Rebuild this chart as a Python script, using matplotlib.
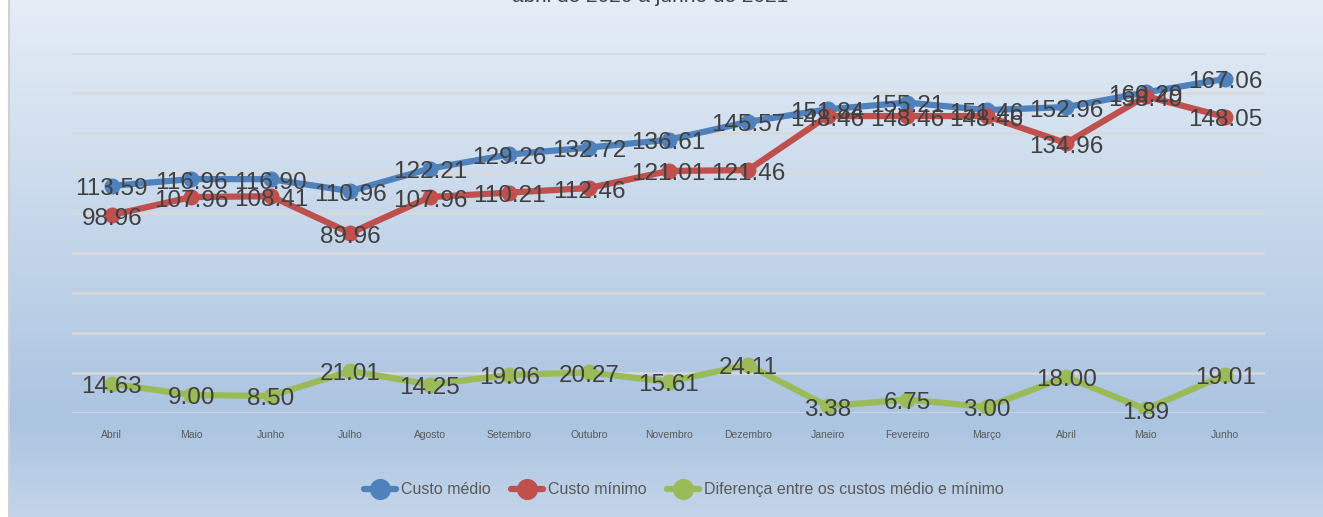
import numpy as np
import matplotlib.pyplot as plt
from matplotlib.colors import LinearSegmentedColormap

plt.rcParams['font.family'] = ['Liberation Sans', 'DejaVu Sans']

meses = ['Abril', 'Maio', 'Junho', 'Julho', 'Agosto', 'Setembro', 'Outubro',
         'Novembro', 'Dezembro', 'Janeiro', 'Fevereiro', 'Março', 'Abril',
         'Maio', 'Junho']
custo_medio = [113.59, 116.96, 116.90, 110.96, 122.21, 129.26, 132.72,
               136.61, 145.57, 151.84, 155.21, 151.46, 152.96, 160.29, 167.06]
custo_minimo = [98.96, 107.96, 108.41, 89.96, 107.96, 110.21, 112.46,
                121.01, 121.46, 148.46, 148.46, 148.46, 134.96, 158.40, 148.05]
diferenca = [14.63, 9.00, 8.50, 21.01, 14.25, 19.06, 20.27,
             15.61, 24.11, 3.38, 6.75, 3.00, 18.00, 1.89, 19.01]

W, H = 1323, 517
fig = plt.figure(figsize=(W / 100, H / 100), dpi=100)

# background gradient
bg = fig.add_axes([0, 0, 1, 1], zorder=-10)
cmap = LinearSegmentedColormap.from_list(
    'bg', [(0, '#e5edf6'), (420 / 517, '#abc4e1'), (1, '#c3d5ea')])
bg.imshow(np.linspace(0, 1, 256)[:, None], aspect='auto', cmap=cmap,
          extent=[0, W, H, 0])
bg.fill_between([0, 8], 0, H, color='white')
bg.plot([8.5, 8.5], [0, H], color='#d0d0d0', lw=1.5)
bg.set_xlim(0, W)
bg.set_ylim(H, 0)
bg.axis('off')

ax = fig.add_axes([72 / W, (H - 413) / H, 1193 / W, 360 / H])
ax.patch.set_alpha(0)
x = np.arange(len(meses))

series = [
    (custo_medio, '#4f81bd', 'Custo médio'),
    (custo_minimo, '#c0504d', 'Custo mínimo'),
    (diferenca, '#9bbb59', 'Diferença entre os custos médio e mínimo'),
]
for vals, cor, nome in series:
    ax.plot(x, vals, color=cor, lw=4.5, marker='o', ms=10.5,
            solid_capstyle='round', label=nome, zorder=3)
    for xi, v in zip(x, vals):
        ax.annotate(f'{v:.2f}', (xi, v), xytext=(0, -2.5),
                    textcoords='offset points', ha='center', va='center',
                    fontsize=17.5, color='#404040', zorder=4)

ax.set_xlim(-0.5, len(meses) - 0.5)
ax.set_ylim(0, 180)
ax.set_yticks(np.arange(0, 181, 20))
ax.yaxis.grid(True, color='#d9d9d9', lw=1.8, zorder=1)
ax.set_yticklabels([])
ax.tick_params(axis='y', length=0)
ax.set_xticks(x)
ax.set_xticklabels(meses, fontsize=7.5, color='#595959')
ax.tick_params(axis='x', length=0, pad=12)
for s in ax.spines.values():
    s.set_visible(False)

fig.text(650 / W, 1 - 2.5 / H, 'abril de 2020 a junho de 2021', ha='center',
         va='baseline', fontsize=15, color='#404040')

leg = fig.legend(loc='center', bbox_to_anchor=(684 / W, 1 - 490 / H), ncol=3,
                 frameon=False, fontsize=11.5, handlelength=2.0,
                 markerscale=1.35, columnspacing=1.3, handletextpad=0.3)
for t in leg.get_texts():
    t.set_color('#595959')

fig.savefig('out.png', dpi=100)
